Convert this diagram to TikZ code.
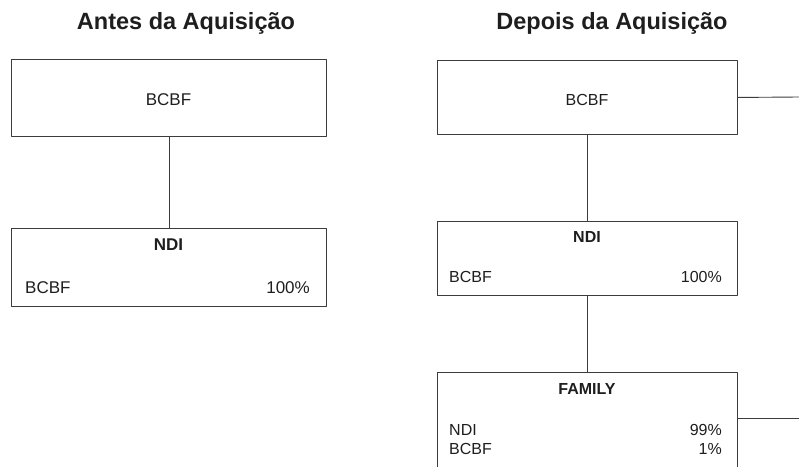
\documentclass[tikz,border=0pt]{standalone}
\usepackage{fontspec}
\setmainfont{Liberation Sans}
\definecolor{linegray}{HTML}{3C3C3C}
\definecolor{inkgray}{HTML}{1E1E1E}
\begin{document}
\begin{tikzpicture}[x=1pt, y=-1pt, line join=round,
    box/.style={draw=linegray, line width=0.9pt, inner sep=0pt},
    title/.style={anchor=base, font=\fontsize{23.5}{26}\selectfont\bfseries, text=inkgray},
    lbl/.style={anchor=base, inner sep=0pt, font=\fontsize{17}{19}\selectfont, text=inkgray},
    rlbl/.style={lbl, font=\fontsize{16}{18}\selectfont},
    link/.style={draw=linegray, line width=0.9pt}]
    \clip (0,0) rectangle (799,466);
    % titles
    \node[title] (tBefore) at (186,29) {Antes da Aquisição};
    \node[title] (tAfter) at (612,29) {Depois da Aquisição};
    % before the acquisition
    \node[box, anchor=north west, minimum width=315pt, minimum height=77pt] (bcbfA) at (11,59) {};
    \node[box, anchor=north west, minimum width=315pt, minimum height=78pt] (ndiA) at (11,228) {};
    \node[lbl] at (168.5,105) {BCBF};
    \node[lbl, font=\fontsize{17}{19}\selectfont\bfseries] at (168.5,250) {NDI};
    \node[lbl, anchor=base west] at (25,293) {BCBF};
    \node[lbl, anchor=base east] at (310,293) {100\%};
    \draw[link] (bcbfA.south) -- (ndiA.north);
    % after the acquisition
    \node[box, anchor=north west, minimum width=300pt, minimum height=74pt] (bcbfB) at (437,60) {};
    \node[box, anchor=north west, minimum width=300pt, minimum height=74pt] (ndiB) at (437,221) {};
    \node[box, anchor=north west, minimum width=300pt, minimum height=120pt] (famB) at (437,372) {};
    \node[rlbl] at (587,105) {BCBF};
    \node[rlbl, font=\fontsize{16}{18}\selectfont\bfseries] at (587,242) {NDI};
    \node[rlbl, anchor=base west] at (449,282) {BCBF};
    \node[rlbl, anchor=base east] at (722,282) {100\%};
    \node[rlbl, font=\fontsize{16}{18}\selectfont\bfseries] at (587,394) {FAMILY};
    \node[rlbl, anchor=base west] at (449,435) {NDI};
    \node[rlbl, anchor=base east] at (722,435) {99\%};
    \node[rlbl, anchor=base west] at (449,454) {BCBF};
    \node[rlbl, anchor=base east] at (722,454) {1\%};
    \coordinate (outTop) at (799,97);
    \coordinate (outFam) at (799,418);
    \draw[link] (bcbfB.south) -- (ndiB.north);
    \draw[link] (ndiB.south) -- (famB.north);
    \draw[link] (bcbfB.east) -- (outTop);
    \draw[link] (outFam -| famB.east) -- (outFam);
\end{tikzpicture}
\end{document}
